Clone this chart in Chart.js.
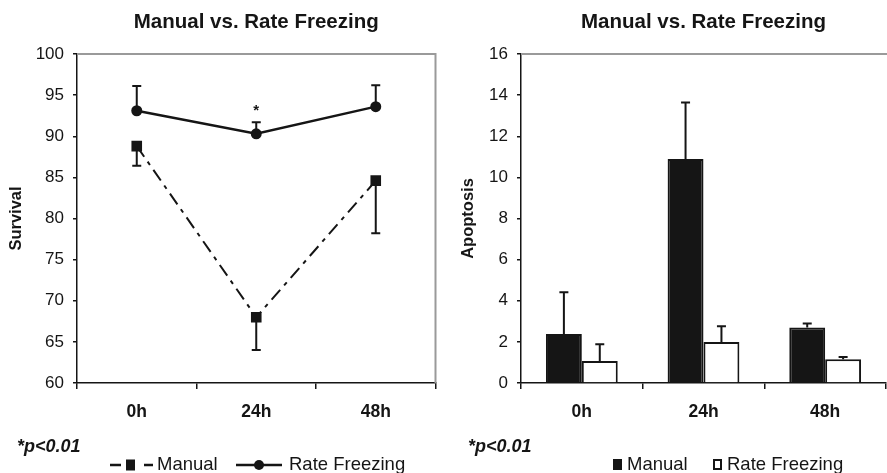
<!DOCTYPE html>
<html>
<head>
<meta charset="utf-8">
<script src="https://cdn.jsdelivr.net/npm/chart.js@4.4.0/dist/chart.umd.min.js"></script>
<style>
  body { margin: 0; background: #fff; }
  #wrap { position: relative; width: 887px; height: 473px; }
  .caja { position: absolute; top: 0; height: 473px; }
  #caja1 { left: 0; width: 443px; }
  #caja2 { left: 443px; width: 444px; }
</style>
</head>
<body>
<div id="wrap">
  <div class="caja" id="caja1"><canvas id="chartSurvival"></canvas></div>
  <div class="caja" id="caja2"><canvas id="chartApoptosis"></canvas></div>
</div>
<script>
var categorias = ['0h', '24h', '48h'];

// Survival (izquierda)
var survival_manual = [88.8, 68.0, 84.6];
var survival_manual_err = [2.4, 4.0, 6.4];   // barra hacia abajo
var survival_rate = [93.1, 90.3, 93.6];
var survival_rate_err = [3.0, 1.4, 2.6];     // barra hacia arriba
var survival_sig = ['', '*', ''];
var survival_ticks = [60, 65, 70, 75, 80, 85, 90, 95, 100];

// Apoptosis (derecha)
var apoptosis_manual = [2.38, 10.89, 2.70];
var apoptosis_manual_err = [2.03, 2.75, 0.19];
var apoptosis_rate = [1.07, 2.0, 1.15];
var apoptosis_rate_err = [0.81, 0.76, 0.11];
var apoptosis_ticks = [0, 2, 4, 6, 8, 10, 12, 14, 16];

var titulo = 'Manual vs. Rate Freezing';
var nota = '*p<0.01';

var FUENTE = "'Liberation Sans', Arial, sans-serif";
var NEGRO = '#151515';
Chart.defaults.font.family = FUENTE;
Chart.defaults.color = NEGRO;

// barras de error + asterisco
var barrasError = {
  id: 'barrasError',
  afterDatasetsDraw: function (chart) {
    var ctx = chart.ctx;
    var y = chart.scales.y;
    chart.data.datasets.forEach(function (ds, i) {
      if (!ds.errores) return;
      var meta = chart.getDatasetMeta(i);
      ctx.save();
      ctx.strokeStyle = NEGRO;
      ctx.lineWidth = 2;
      meta.data.forEach(function (el, j) {
        var py = y.getPixelForValue(ds.data[j] + ds.direccion * ds.errores[j]);
        ctx.beginPath();
        ctx.moveTo(el.x, el.y);
        ctx.lineTo(el.x, py);
        ctx.moveTo(el.x - 4.5, py);
        ctx.lineTo(el.x + 4.5, py);
        ctx.stroke();
        if (ds.sig && ds.sig[j]) {
          ctx.fillStyle = NEGRO;
          ctx.font = 'bold 15px ' + FUENTE;
          ctx.textAlign = 'center';
          ctx.textBaseline = 'alphabetic';
          ctx.fillText(ds.sig[j], el.x, py - 7);
        }
      });
      ctx.restore();
    });
  }
};

// marco gris, titulo, nota y leyenda
var decoracion = {
  id: 'decoracion',
  afterDraw: function (chart) {
    var ctx = chart.ctx;
    var a = chart.chartArea;
    var op = chart.options.plugins.decoracion;
    ctx.save();
    ctx.strokeStyle = '#9a9a9a';
    ctx.lineWidth = 2;
    ctx.beginPath();
    ctx.moveTo(a.left, a.top);
    ctx.lineTo(op.bordeDerecho ? a.right : chart.width, a.top);
    if (op.bordeDerecho) ctx.lineTo(a.right, a.bottom);
    ctx.stroke();

    ctx.fillStyle = NEGRO;
    ctx.textAlign = 'center';
    ctx.textBaseline = 'middle';
    ctx.font = 'bold 20.5px ' + FUENTE;
    ctx.fillText(titulo, (a.left + a.right) / 2, 22);

    ctx.textAlign = 'left';
    ctx.font = 'italic bold 18px ' + FUENTE;
    ctx.fillText(nota, op.notaX, 447);

    var yl = 465;
    ctx.font = '18.5px ' + FUENTE;
    op.leyenda.forEach(function (it) {
      var ds = chart.data.datasets[it.ds];
      var x = it.x;
      ctx.strokeStyle = NEGRO;
      ctx.fillStyle = NEGRO;
      ctx.lineWidth = 2.5;
      if (it.tipo === 'guion-cuadro') {
        ctx.beginPath();
        ctx.moveTo(x, yl); ctx.lineTo(x + 11, yl);
        ctx.moveTo(x + 34, yl); ctx.lineTo(x + 43, yl);
        ctx.stroke();
        ctx.fillRect(x + 16, yl - 5.5, 9, 11);
        x += 47;
      } else if (it.tipo === 'linea-circulo') {
        ctx.beginPath();
        ctx.moveTo(x, yl); ctx.lineTo(x + 46, yl);
        ctx.stroke();
        ctx.beginPath();
        ctx.arc(x + 23, yl, 5, 0, Math.PI * 2);
        ctx.fill();
        x += 53;
      } else if (it.tipo === 'cuadro') {
        ctx.lineWidth = 2;
        ctx.fillStyle = ds.backgroundColor;
        ctx.fillRect(x, yl - 6, 9, 11);
        if (ds.backgroundColor !== NEGRO) ctx.strokeRect(x + 1, yl - 5, 7, 9);
        x += 14;
      }
      ctx.fillStyle = NEGRO;
      ctx.fillText(ds.label, x, yl);
    });
    ctx.restore();
  }
};

function ejeX() {
  return {
    offset: true,
    grid: { display: true, offset: true, drawOnChartArea: false, drawTicks: true, tickLength: 6, color: NEGRO, lineWidth: 1.5 },
    border: { display: true, color: NEGRO, width: 1.5 },
    ticks: { font: { size: 17.5, weight: 'bold' }, padding: 13, color: NEGRO },
    afterFit: function (s) { s.height = 90; }
  };
}

function ejeY(ticks, tituloEje, ancho, padTitulo) {
  return {
    min: ticks[0],
    max: ticks[ticks.length - 1],
    ticks: { stepSize: ticks[1] - ticks[0], font: { size: 17 }, padding: 9, color: NEGRO },
    grid: { display: true, drawOnChartArea: false, drawTicks: true, tickLength: 4, color: NEGRO, lineWidth: 1.5 },
    border: { display: true, color: NEGRO, width: 1.5 },
    title: { display: true, text: tituloEje, font: { size: 16.5, weight: 'bold' }, color: NEGRO, padding: { top: padTitulo, bottom: 0 } },
    afterFit: function (s) { s.width = ancho; }
  };
}

var chartSurvival = new Chart(document.getElementById('chartSurvival'), {
  type: 'line',
  data: {
    labels: categorias,
    datasets: [
      {
        label: 'Manual',
        data: survival_manual,
        errores: survival_manual_err,
        direccion: -1,
        borderColor: NEGRO,
        backgroundColor: NEGRO,
        borderWidth: 2,
        borderDash: [13, 6, 4, 6],
        pointStyle: 'rect',
        pointRadius: 7.5,
        pointBorderWidth: 0,
        tension: 0
      },
      {
        label: 'Rate Freezing',
        data: survival_rate,
        errores: survival_rate_err,
        direccion: 1,
        sig: survival_sig,
        borderColor: NEGRO,
        backgroundColor: NEGRO,
        borderWidth: 2.5,
        pointStyle: 'circle',
        pointRadius: 5.5,
        pointBorderWidth: 0,
        tension: 0
      }
    ]
  },
  options: {
    responsive: true,
    maintainAspectRatio: false,
    animation: false,
    events: [],
    layout: { padding: { top: 54, right: 6, left: 0, bottom: 0 } },
    scales: {
      x: ejeX(),
      y: ejeY(survival_ticks, 'Survival', 77, 7)
    },
    plugins: {
      legend: { display: false },
      tooltip: { enabled: false },
      decoracion: {
        bordeDerecho: true,
        notaX: 17,
        leyenda: [
          { ds: 0, tipo: 'guion-cuadro', x: 110 },
          { ds: 1, tipo: 'linea-circulo', x: 236 }
        ]
      }
    }
  },
  plugins: [barrasError, decoracion]
});

var chartApoptosis = new Chart(document.getElementById('chartApoptosis'), {
  type: 'bar',
  data: {
    labels: categorias,
    datasets: [
      {
        label: 'Manual',
        data: apoptosis_manual,
        errores: apoptosis_manual_err,
        direccion: 1,
        backgroundColor: NEGRO,
        borderColor: NEGRO,
        borderWidth: 2,
        categoryPercentage: 0.59,
        barPercentage: 1
      },
      {
        label: 'Rate Freezing',
        data: apoptosis_rate,
        errores: apoptosis_rate_err,
        direccion: 1,
        backgroundColor: '#ffffff',
        borderColor: NEGRO,
        borderWidth: 2,
        categoryPercentage: 0.59,
        barPercentage: 1
      }
    ]
  },
  options: {
    responsive: true,
    maintainAspectRatio: false,
    animation: false,
    events: [],
    layout: { padding: { top: 54, right: 1, left: 0, bottom: 0 } },
    scales: {
      x: ejeX(),
      y: ejeY(apoptosis_ticks, 'Apoptosis', 78, 16)
    },
    plugins: {
      legend: { display: false },
      tooltip: { enabled: false },
      decoracion: {
        bordeDerecho: false,
        notaX: 25,
        leyenda: [
          { ds: 0, tipo: 'cuadro', x: 170 },
          { ds: 1, tipo: 'cuadro', x: 270 }
        ]
      }
    }
  },
  plugins: [barrasError, decoracion]
});
</script>
</body>
</html>
